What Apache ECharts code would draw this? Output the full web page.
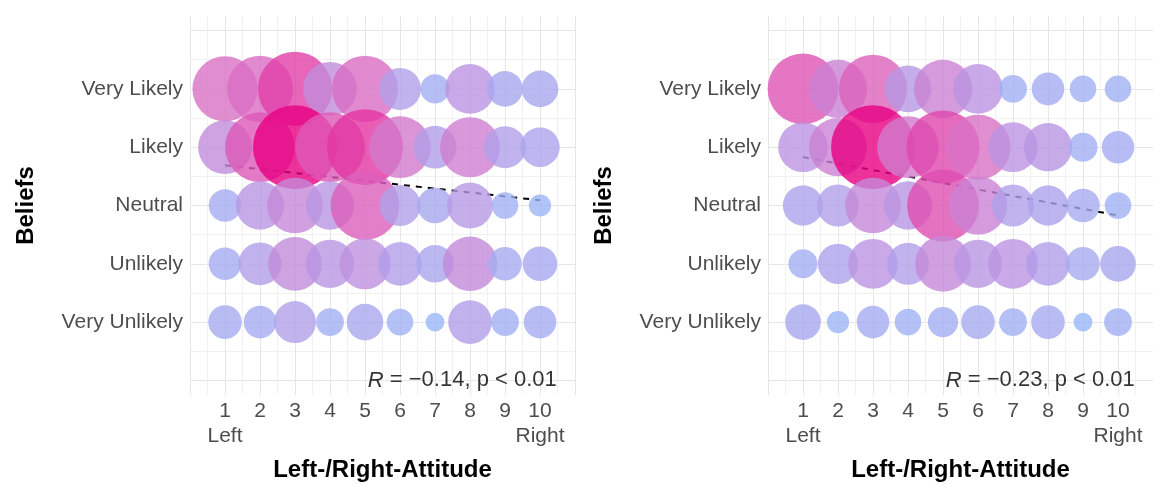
<!DOCTYPE html>
<html>
<head>
<meta charset="utf-8">
<script src="https://cdn.jsdelivr.net/npm/echarts@6/dist/echarts.min.js"></script>
<style>
  html, body { margin: 0; padding: 0; background: #fff; }
  #chart { width: 1153px; height: 485px; }
</style>
</head>
<body>
<div id="chart"></div>
<script>
// y categories, bottom to top
const beliefs = ['Very Unlikely', 'Unlikely', 'Neutral', 'Likely', 'Very Likely'];
const attitude = [1, 2, 3, 4, 5, 6, 7, 8, 9, 10];

// counts per attitude 1..10 (left panel)
const leftVeryUnlikely = [16, 15, 25, 11, 19, 10, 5, 27, 11, 15];
const leftUnlikely     = [15, 26, 41, 33, 37, 27, 20, 42, 16, 17];
const leftNeutral      = [15, 33, 44, 33, 67, 24, 18, 30, 10, 7];
const leftLikely       = [41, 69, 100, 69, 82, 54, 26, 51, 25, 22];
const leftVeryLikely   = [60, 62, 78, 41, 62, 25, 12, 35, 18, 19];

// counts per attitude 1..10 (right panel)
const rightVeryUnlikely = [18, 7, 15, 10, 13, 16, 11, 16, 5, 11];
const rightUnlikely     = [12, 23, 35, 25, 44, 33, 35, 27, 16, 18];
const rightNeutral      = [23, 25, 44, 33, 73, 48, 25, 23, 16, 10];
const rightLikely       = [35, 48, 100, 54, 76, 60, 35, 33, 12, 15];
const rightVeryLikely   = [71, 48, 66, 31, 48, 35, 11, 15, 10, 10];

// regression line ends at attitude 1 and 10
const fitX = [1, 10];
const leftFit = [3.69, 3.09];
const rightFit = [3.83, 2.83];

const leftR = '\u22120.14';
const rightR = '\u22120.23';

const font = '"Liberation Sans", Arial, sans-serif';

// rows given top (Very Likely) first, so lower rows are drawn over upper ones
const toPoints = (rowsTopDown) => {
  const pts = [];
  rowsTopDown.forEach((row, i) => {
    const level = beliefs.length - i;
    row.forEach((n, xi) => pts.push([attitude[xi], level, n]));
  });
  return pts;
};

const fitLine = (ys) => fitX.map((x, i) => [x, ys[i]]);

const makeX = (idx) => ({
  type: 'value',
  gridIndex: idx,
  min: 0,
  max: 11,
  interval: 0.5,
  name: 'Left-/Right-Attitude',
  nameLocation: 'middle',
  nameGap: 63,
  nameTextStyle: { fontFamily: font, fontSize: 24, fontWeight: 'bold', color: '#000' },
  axisLine: { show: false },
  axisTick: { show: false },
  axisLabel: {
    margin: 4,
    fontFamily: font,
    fontSize: 21,
    lineHeight: 25,
    color: '#4d4d4d',
    formatter: (v) => {
      if (Math.abs(v - Math.round(v)) > 1e-6 || v < 1 || v > 10) return '';
      if (v === 1) return '1\nLeft';
      if (v === 10) return '10\nRight';
      return String(v);
    }
  },
  splitLine: { show: true, lineStyle: { color: ['#e6e6e6', '#f1f1f1'], width: 1 } }
});

const makeY = (idx) => ({
  type: 'value',
  gridIndex: idx,
  min: -0.25,
  max: 6.25,
  interval: 0.25,
  name: 'Beliefs',
  nameLocation: 'middle',
  nameGap: 152,
  nameRotate: 90,
  nameTextStyle: { fontFamily: font, fontSize: 24, fontWeight: 'bold', color: '#000' },
  axisLine: { show: false },
  axisTick: { show: false },
  axisLabel: {
    margin: 7,
    fontFamily: font,
    fontSize: 21,
    color: '#4d4d4d',
    formatter: (v) => {
      const r = Math.round(v);
      if (Math.abs(v - r) > 1e-6 || r < 1 || r > 5) return '';
      return beliefs[r - 1];
    }
  },
  splitLine: {
    show: true,
    lineStyle: { color: ['rgba(0,0,0,0)', '#e6e6e6', 'rgba(0,0,0,0)', '#f1f1f1'], width: 1 }
  }
});

const bubbles = (idx, rows) => ({
  type: 'scatter',
  xAxisIndex: idx,
  yAxisIndex: idx,
  data: toPoints(rows),
  symbolSize: (v) => 8.4 * Math.sqrt(v[2]),
  itemStyle: { opacity: 0.8 },
  silent: true,
  z: 3
});

const fit = (idx, ys) => ({
  type: 'line',
  xAxisIndex: idx,
  yAxisIndex: idx,
  data: fitLine(ys),
  symbol: 'none',
  silent: true,
  lineStyle: { color: '#000', width: 2, type: [6, 6] },
  z: 2
});

const note = (idx, r) => ({
  type: 'scatter',
  xAxisIndex: idx,
  yAxisIndex: idx,
  data: [[5.08, 0]],
  symbolSize: 0,
  silent: true,
  z: 4,
  label: {
    show: true,
    position: 'right',
    distance: 0,
    formatter: '{it|R} = ' + r + ', p < 0.01',
    fontFamily: font,
    fontSize: 22,
    color: '#000',
    rich: { it: { fontStyle: 'italic', fontFamily: font, fontSize: 22, color: '#000' } }
  }
});

const chart = echarts.init(document.getElementById('chart'));
chart.setOption({
  animation: false,
  grid: [
    { left: 190, top: 16, width: 385, height: 379, outerBoundsMode: 'none' },
    { left: 768, top: 16, width: 385, height: 379, outerBoundsMode: 'none' }
  ],
  xAxis: [makeX(0), makeX(1)],
  yAxis: [makeY(0), makeY(1)],
  visualMap: {
    show: false,
    type: 'continuous',
    min: 0,
    max: 100,
    dimension: 2,
    seriesIndex: [2, 3],
    inRange: { color: ['#95bdfa', '#aaa6ee', '#c18ddc', '#d972c6', '#e23ba5', '#e80082'] }
  },
  series: [
    fit(0, leftFit),
    fit(1, rightFit),
    bubbles(0, [leftVeryLikely, leftLikely, leftNeutral, leftUnlikely, leftVeryUnlikely]),
    bubbles(1, [rightVeryLikely, rightLikely, rightNeutral, rightUnlikely, rightVeryUnlikely]),
    note(0, leftR),
    note(1, rightR)
  ]
});
</script>
</body>
</html>
